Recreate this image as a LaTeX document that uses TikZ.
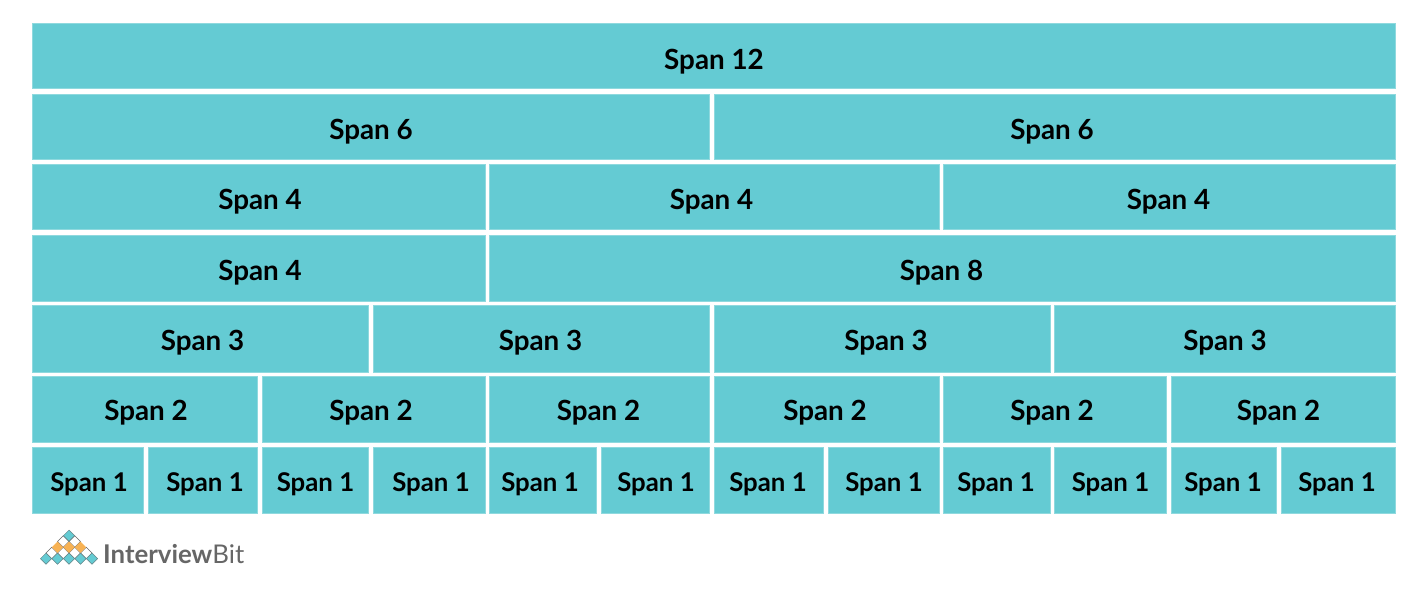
\documentclass[tikz,border=0pt]{standalone}
\usepackage{fontspec}
\setmainfont{Lato}
\definecolor{cell}{HTML}{64CBD3}
\definecolor{edgec}{HTML}{8FD9DE}
\definecolor{gr}{HTML}{666666}
\definecolor{org}{HTML}{F7B254}
\tikzset{x=1pt,y=-1pt,
 cellbox/.style={fill=cell,draw=edgec,line width=0.5pt,inner sep=0pt,font=\fontsize{27.8}{30}\selectfont\bfseries},
 small/.style={font=\fontsize{25.8}{28}\selectfont\bfseries}}
\newcommand{\lx}[2]{\hspace*{\dimexpr#1pt*2+0.8pt\relax}#2}
\newcommand{\spn}[8][]{% style; name; x1; x2; y1; y2; lowering; label
 \node[cellbox,#1,minimum width=#4pt-#3pt-0.5pt,minimum height=#6pt-#5pt-0.5pt] (#2) at ({(#3+#4)/2-0.4},{(#5+#6)/2}) {\raisebox{-#7pt}[\height][\depth]{#8}};}
\newcommand{\dm}[3]{\path[draw=gr!70!cell,line width=0.5pt,fill=#3] (#1-5.6,#2)--(#1,#2-5.6)--(#1+5.6,#2)--(#1,#2+5.6)--cycle;}
\newcommand{\dw}[2]{\path[draw=gr,line width=0.6pt,fill=white] (#1-5.75,#2)--(#1,#2-5.75)--(#1+5.75,#2)--(#1,#2+5.75)--cycle;}
\newcommand{\dorg}[2]{\path[fill=org] (#1-5.6,#2)--(#1,#2-5.6)--(#1+5.6,#2)--(#1,#2+5.6)--cycle;}
\begin{document}
\begin{tikzpicture}
\useasboundingbox (0,0) rectangle (1424,596);
\spn{a}{32}{1396}{23}{89}{5.3}{\lx{0}{Span 12}}
\spn{b1}{32}{710}{94}{160}{4.5}{\lx{0}{Span 6}}
\spn{b2}{714}{1396}{94}{160}{4.5}{\lx{-3}{Span 6}}
\spn{c1}{32}{486}{164}{230}{4.8}{\lx{1}{Span 4}}
\spn{c2}{489}{940}{164}{230}{4.8}{\lx{-3}{Span 4}}
\spn{c3}{943}{1396}{164}{230}{4.8}{\lx{-1}{Span 4}}
\spn{d1}{32}{486}{235}{301}{4.5}{\lx{1}{Span 4}}
\spn{d2}{489}{1396}{235}{301}{4.5}{\lx{-1}{Span 8}}
\spn{e1}{32}{369}{305}{372}{4.5}{\lx{2}{Span 3}}
\spn{e2}{373}{710}{305}{372}{4.5}{\lx{-1}{Span 3}}
\spn{e3}{714}{1051}{305}{372}{4.5}{\lx{3.5}{Span 3}}
\spn{e4}{1054}{1396}{305}{372}{4.5}{\lx{0}{Span 3}}
\spn{f1}{32}{258}{376}{442}{3.6}{\lx{1}{Span 2}}
\spn{f2}{262}{486}{376}{442}{3.6}{\lx{-3}{Span 2}}
\spn{f3}{489}{710}{376}{442}{3.6}{\lx{-1}{Span 2}}
\spn{f4}{714}{940}{376}{442}{3.6}{\lx{-2}{Span 2}}
\spn{f5}{943}{1167}{376}{442}{3.6}{\lx{-3}{Span 2}}
\spn{f6}{1171}{1396}{376}{442}{3.6}{\lx{-5}{Span 2}}
\spn[small]{g1}{32}{144}{447}{513}{3.8}{\lx{1}{Span 1}}
\spn[small]{g2}{148}{258}{447}{513}{3.8}{\lx{2}{Span 1}}
\spn[small]{g3}{262}{369}{447}{513}{3.8}{\lx{0}{Span 1}}
\spn[small]{g4}{373}{486}{447}{513}{3.8}{\lx{1.5}{Span 1}}
\spn[small]{g5}{489}{597}{447}{513}{3.8}{\lx{-3}{Span 1}}
\spn[small]{g6}{601}{710}{447}{513}{3.8}{\lx{0.5}{Span 1}}
\spn[small]{g7}{714}{824}{447}{513}{3.8}{\lx{-1}{Span 1}}
\spn[small]{g8}{828}{940}{447}{513}{3.8}{\lx{0}{Span 1}}
\spn[small]{g9}{943}{1051}{447}{513}{3.8}{\lx{-1}{Span 1}}
\spn[small]{g10}{1054}{1167}{447}{513}{3.8}{\lx{0}{Span 1}}
\spn[small]{g11}{1171}{1277}{447}{513}{3.8}{\lx{-1}{Span 1}}
\spn[small]{g12}{1281}{1396}{447}{513}{3.8}{\lx{-1.5}{Span 1}}
\dw{63.2}{541.5}\dw{74.7}{541.5}
\dw{51.7}{553}\dw{63.2}{553}\dw{74.7}{553}\dw{86.2}{553}
\dm{69}{535.7}{cell}
\dorg{57.5}{547.2}\dorg{69}{547.2}\dorg{80.5}{547.2}
\dm{46}{558.7}{cell}\dm{57.5}{558.7}{cell}\dm{69}{558.7}{cell}\dm{80.5}{558.7}{cell}\dm{92}{558.7}{cell}
\node[anchor=west,inner sep=0pt,text=gr,font=\fontsize{25.8}{28}\selectfont] (logo) at (103,554) {\textbf{Interview}Bit};
\end{tikzpicture}
\end{document}
